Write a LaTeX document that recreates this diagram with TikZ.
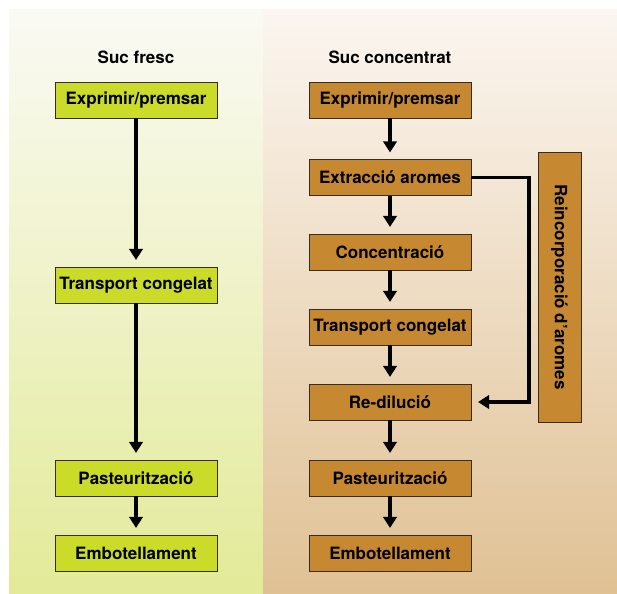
\documentclass[tikz,border=0pt]{standalone}
\usepackage{fontspec}
\setmainfont{TeX Gyre Heros}
\usetikzlibrary{arrows.meta, positioning}

\definecolor{freshfill}{RGB}{203,219,42}
\definecolor{concfill}{RGB}{198,137,49}
\definecolor{boxline}{RGB}{55,45,30}
\definecolor{freshtop}{RGB}{250,250,244}
\definecolor{freshbot}{RGB}{227,234,152}
\definecolor{conctop}{RGB}{251,246,240}
\definecolor{concbot}{RGB}{224,193,148}
\newcommand{\boxfont}{\fontsize{14.5}{17}\selectfont\bfseries}

\begin{document}
\begin{tikzpicture}[
    stepbox/.style={rectangle, draw=boxline, line width=0.7pt, minimum width=4.86cm, minimum height=1.08cm, inner sep=0pt, font=\boxfont},
    freshbox/.style={stepbox, fill=freshfill},
    concbox/.style={stepbox, fill=concfill},
    coltitle/.style={font=\boxfont},
    arrow/.style={line width=2.9pt, -{Triangle[width=0.4cm,length=0.33cm]}, shorten >=0.2cm}
  ]
  % background panels
  \useasboundingbox (0,0) rectangle (18.51,-17.82);
  \shade[top color=freshtop, bottom color=freshbot] (0.27,-0.30) rectangle (7.89,-17.82);
  \shade[top color=conctop, bottom color=concbot] (7.89,-0.30) rectangle (18.51,-17.82);

  % fresh juice
  \begin{scope}[shift={(4.08,0)}]
    \node[coltitle] (ftitle) at (0,-1.71) {Suc fresc};
    \node[freshbox] (fpress) at (0,-3.0) {Exprimir/premsar};
    \node[freshbox] (ftrans) at (0,-8.55) {Transport congelat};
    \node[freshbox] (fpast) at (0,-14.34) {Pasteurització};
    \node[freshbox] (fbottle) at (0,-16.59) {Embotellament};
  \end{scope}

  % concentrated juice
  \begin{scope}[shift={(11.7,0)}]
    \node[coltitle] (ctitle) at (0,-1.71) {Suc concentrat};
    \node[concbox] (cpress) at (0,-3.0) {Exprimir/premsar};
    \node[concbox] (cextr) at (0,-5.325) {Extracció aromes};
    \node[concbox] (cconc) at (0,-7.56) {Concentració};
    \node[concbox] (ctrans) at (0,-9.81) {Transport congelat};
    \node[concbox] (credil) at (0,-12.06) {Re-dilució};
    \node[concbox] (cpast) at (0,-14.34) {Pasteurització};
    \node[concbox] (cbottle) at (0,-16.59) {Embotellament};
  \end{scope}

  % aroma loop
  \node[concbox, rotate=-90, minimum width=8.1cm, minimum height=1.29cm] (reinc) at (16.785,-8.61) {Reincorporació d’aromes};
  \coordinate (turn) at (15.87,-5.325);

  \draw[arrow] (fpress) -- (ftrans);
  \draw[arrow] (ftrans) -- (fpast);
  \draw[arrow] (fpast) -- (fbottle);

  \draw[arrow] (cpress) -- (cextr);
  \draw[arrow] (cextr) -- (cconc);
  \draw[arrow] (cconc) -- (ctrans);
  \draw[arrow] (ctrans) -- (credil);
  \draw[arrow] (credil) -- (cpast);
  \draw[arrow] (cpast) -- (cbottle);
  \draw[arrow] (cextr.east) -- (turn) |- (credil.east);

\end{tikzpicture}
\end{document}
